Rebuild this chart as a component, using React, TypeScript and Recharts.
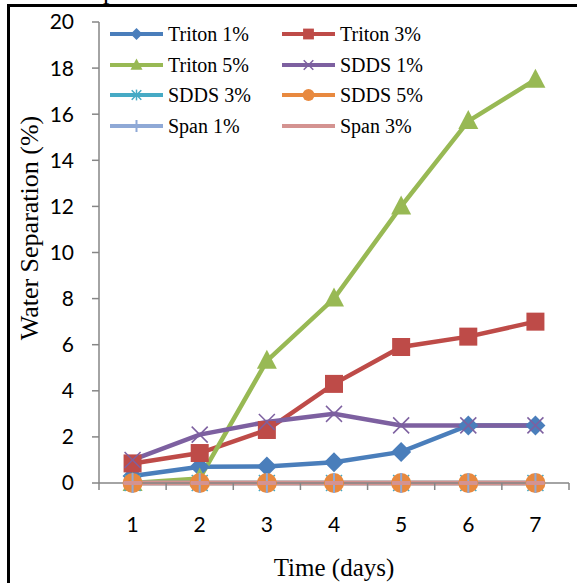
import React from 'react';
import { LineChart, Line, XAxis, YAxis, Legend } from 'recharts';

const days = [1, 2, 3, 4, 5, 6, 7];
const triton1 = [0.3, 0.7, 0.72, 0.9, 1.35, 2.5, 2.5];
const triton3 = [0.85, 1.3, 2.3, 4.3, 5.9, 6.35, 7.0];
const triton5 = [0, 0.2, 5.3, 8.0, 12.0, 15.7, 17.5];
const sdds1 = [1.0, 2.1, 2.65, 3.0, 2.5, 2.5, 2.5];
const sdds3 = [0, 0, 0, 0, 0, 0, 0];
const sdds5 = [0, 0, 0, 0, 0, 0, 0];
const span1 = [0, 0, 0, 0, 0, 0, 0];
const span3 = [0, 0, 0, 0, 0, 0, 0];
const yTicks = [0, 2, 4, 6, 8, 10, 12, 14, 16, 18, 20];
const xTicks = [0.5, 1, 1.5, 2, 2.5, 3, 3.5, 4, 4.5, 5, 5.5, 6, 6.5, 7, 7.5];

const data = days.map((d, i) => ({
  day: d,
  t1: triton1[i],
  t3: triton3[i],
  t5: triton5[i],
  s1: sdds1[i],
  s3: sdds3[i],
  s5: sdds5[i],
  p1: span1[i],
  p3: span3[i],
}));

type Shape = 'diamond' | 'square' | 'triangle' | 'x' | 'star' | 'circle' | 'plus' | 'dash';

const series: { key: string; name: string; color: string; shape: Shape }[] = [
  { key: 't1', name: 'Triton 1%', color: '#4A7EBB', shape: 'diamond' },
  { key: 't3', name: 'Triton 3%', color: '#BE4B48', shape: 'square' },
  { key: 't5', name: 'Triton 5%', color: '#98B954', shape: 'triangle' },
  { key: 's1', name: 'SDDS 1%', color: '#7D60A0', shape: 'x' },
  { key: 's3', name: 'SDDS 3%', color: '#46AAC5', shape: 'star' },
  { key: 's5', name: 'SDDS 5%', color: '#E8893F', shape: 'circle' },
  { key: 'p1', name: 'Span 1%', color: '#8FA9D6', shape: 'plus' },
  { key: 'p3', name: 'Span 3%', color: '#D49391', shape: 'dash' },
];

function Marker({ cx, cy, shape, color, s }: { cx: number; cy: number; shape: Shape; color: string; s: number }) {
  switch (shape) {
    case 'diamond':
      return <polygon points={`${cx},${cy - 10 * s} ${cx + 10 * s},${cy} ${cx},${cy + 10 * s} ${cx - 10 * s},${cy}`} fill={color} />;
    case 'square':
      return <rect x={cx - 9 * s} y={cy - 9 * s} width={18 * s} height={18 * s} fill={color} />;
    case 'triangle':
      return <polygon points={`${cx},${cy - 11 * s} ${cx + 10 * s},${cy + 8 * s} ${cx - 10 * s},${cy + 8 * s}`} fill={color} />;
    case 'x':
      return (
        <g stroke={color} strokeWidth={1.5}>
          <line x1={cx - 8 * s} y1={cy - 8 * s} x2={cx + 8 * s} y2={cy + 8 * s} />
          <line x1={cx - 8 * s} y1={cy + 8 * s} x2={cx + 8 * s} y2={cy - 8 * s} />
        </g>
      );
    case 'star':
      return (
        <g stroke={color} strokeWidth={1.5}>
          <line x1={cx - 8 * s} y1={cy - 8 * s} x2={cx + 8 * s} y2={cy + 8 * s} />
          <line x1={cx - 8 * s} y1={cy + 8 * s} x2={cx + 8 * s} y2={cy - 8 * s} />
          <line x1={cx} y1={cy - 9 * s} x2={cx} y2={cy + 9 * s} />
        </g>
      );
    case 'circle':
      return <circle cx={cx} cy={cy} r={10 * s} fill={color} />;
    case 'plus':
      return (
        <g stroke={color} strokeWidth={2}>
          <line x1={cx} y1={cy - 10 * s} x2={cx} y2={cy + 10 * s} />
          <line x1={cx - 9 * s} y1={cy} x2={cx + 9 * s} y2={cy} />
        </g>
      );
    case 'dash':
      return <line x1={cx - 9 * s} y1={cy} x2={cx + 9 * s} y2={cy} stroke={color} strokeWidth={4} />;
  }
  return null;
}

const makeDot = (shape: Shape, color: string) => (p: any) => (
  <Marker key={`d-${shape}-${p.index}`} cx={p.cx} cy={p.cy} shape={shape} color={color} s={1} />
);

const XTick = (props: any) => {
  const { x, y, payload } = props;
  const v = payload.value;
  if (Number.isInteger(v)) {
    return (
      <text x={x} y={y + 49} textAnchor="middle" fontFamily="Lato" fontSize={21} fill="#000">
        {v}
      </text>
    );
  }
  return <line x1={x} x2={x} y1={y} y2={y + 7} stroke="#868686" strokeWidth={1.5} />;
};

const LegendContent = () => {
  const colX = [5, 177];
  const rowY = [19, 50, 80, 111];
  return (
    <svg width={345} height={130} style={{ display: 'block' }}>
      {series.map((s, i) => {
        const cx = colX[i % 2];
        const cy = rowY[Math.floor(i / 2)];
        return (
          <g key={s.key}>
            <line x1={cx} x2={cx + 53} y1={cy} y2={cy} stroke={s.color} strokeWidth={4} />
            <Marker cx={cx + 26.5} cy={cy} shape={s.shape} color={s.color} s={0.6} />
            <text x={cx + 58} y={cy + 7} fontFamily="Liberation Serif" fontSize={20} fill="#000">
              {s.name}
            </text>
          </g>
        );
      })}
    </svg>
  );
};

const YLabel = (props: any) => (
  <text
    x={29}
    y={228}
    transform="rotate(-90 29 228)"
    textAnchor="middle"
    dominantBaseline="central"
    fontFamily="Liberation Serif"
    fontSize={26}
    fill="#000"
  >
    Water Separation (%)
  </text>
);

const XLabel = (props: any) => (
  <text x={334} y={576} textAnchor="middle" fontFamily="Liberation Serif" fontSize={25} fill="#000">
    Time (days)
  </text>
);

export default function App() {
  return (
    <div style={{ position: 'absolute', left: 0, top: 0, width: 577, height: 583, overflow: 'hidden', background: '#fff' }}>
      <div
        style={{
          position: 'absolute',
          left: 7,
          top: 4,
          width: 700,
          height: 700,
          borderLeft: '3px solid #000',
          borderTop: '3px solid #000',
        }}
      />
      <svg style={{ position: 'absolute', left: 0, top: 0 }} width={577} height={10}>
        <text x={103} y={-1} fontFamily="Liberation Serif" fontSize={26} fill="#000">p</text>
      </svg>
      <div style={{ position: 'absolute', left: 0, top: 0 }}>
        <LineChart width={577} height={583} data={data} margin={{ top: 22, right: 8, bottom: 0, left: 0 }}>
          <XAxis
            dataKey="day"
            type="number"
            domain={[0.5, 7.5]}
            ticks={xTicks}
            interval={0}
            tickLine={false}
            tickSize={0}
            tickMargin={0}
            height={100}
            axisLine={{ stroke: '#868686', strokeWidth: 1.5 }}
            tick={<XTick />}
            label={<XLabel />}
          />
          <YAxis
            type="number"
            domain={[0, 20]}
            ticks={yTicks}
            interval={0}
            width={99}
            tickSize={7}
            tickMargin={18}
            tickLine={{ stroke: '#868686', strokeWidth: 1.5 }}
            axisLine={{ stroke: '#868686', strokeWidth: 1.5 }}
            tick={{ fill: '#000', fontFamily: 'Lato', fontSize: 21 }}
            label={<YLabel />}
          />
          <Legend
            layout="horizontal"
            verticalAlign="middle"
            align="center"
            wrapperStyle={{ position: 'absolute', left: 105, top: 15, width: 345, height: 130 }}
            content={<LegendContent />}
          />
          {series.map((s) => (
            <Line
              key={s.key}
              dataKey={s.key}
              name={s.name}
              stroke={s.color}
              strokeWidth={4.5}
              dot={makeDot(s.shape, s.color)}
              activeDot={false}
              isAnimationActive={false}
            />
          ))}
        </LineChart>
      </div>
    </div>
  );
}
